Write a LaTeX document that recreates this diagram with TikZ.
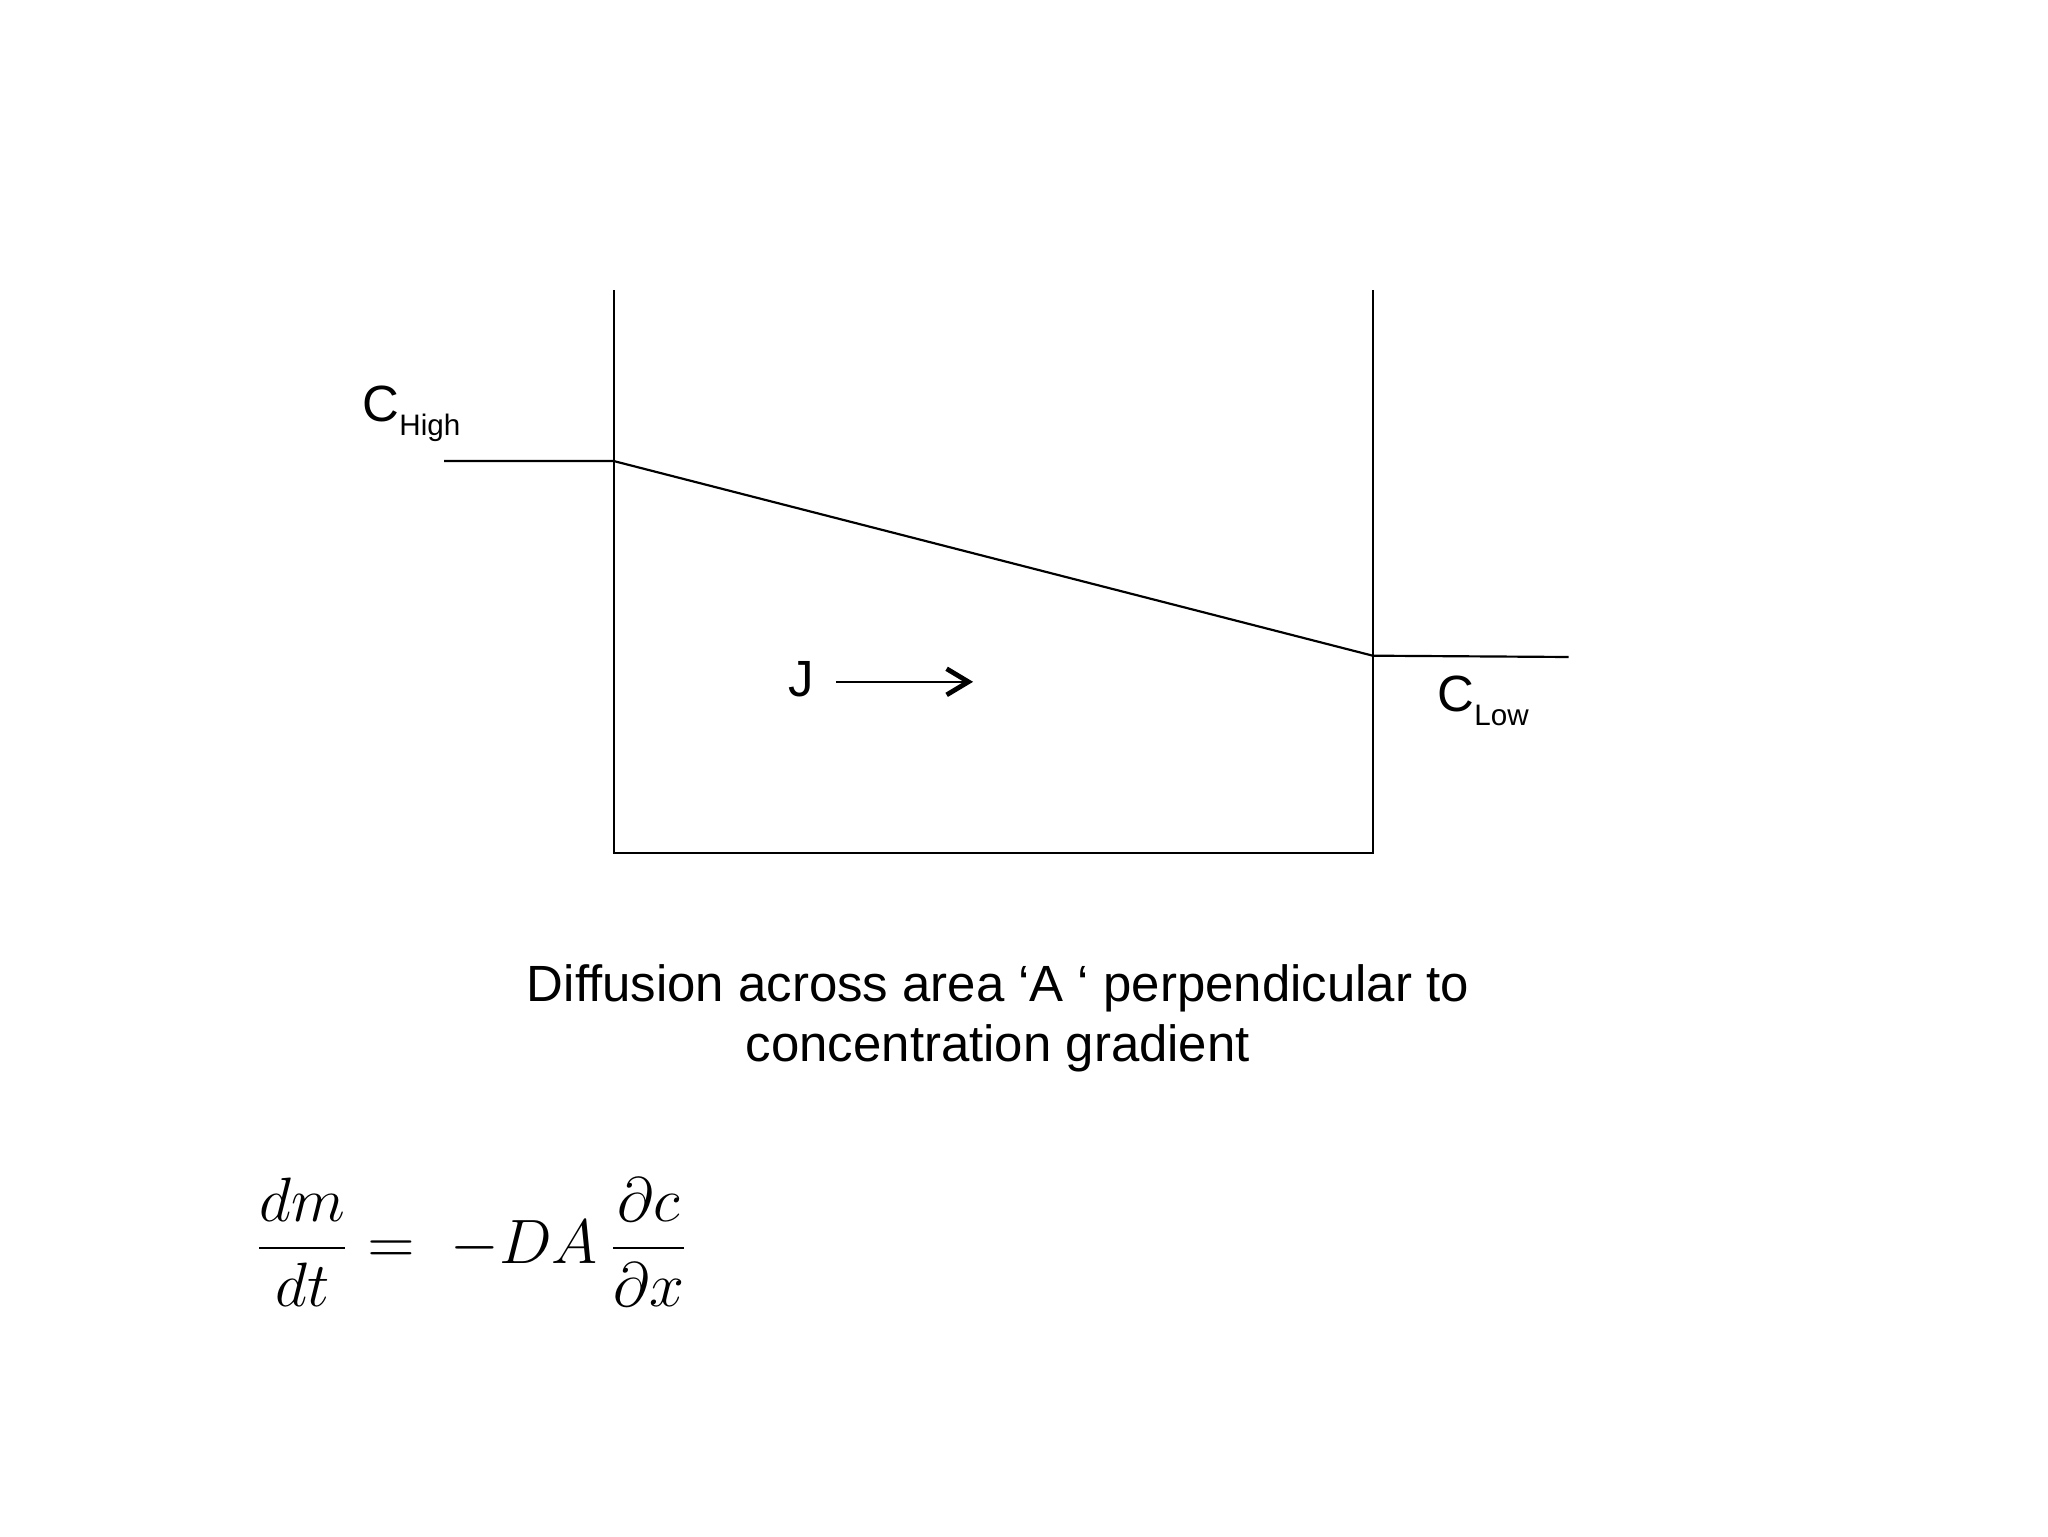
\documentclass[tikz,border=0pt]{standalone}
\usepackage{fontspec}
\setmainfont{Liberation Sans}
\usetikzlibrary{arrows.meta}
\newcommand{\csub}[1]{C\raisebox{-0.26em}{\fontsize{6.8}{8}\selectfont #1}}
\tikzset{
  wall/.style={line width=0.5pt},
  label/.style={inner sep=0pt, font=\fontsize{11.7}{14}\selectfont}
}
\begin{document}
\begin{tikzpicture}[x=0.3pt,y=0.3pt,yscale=-1,xscale=1]
\useasboundingbox (0,0) rectangle (1568,1176);

%Corners of the box
\coordinate (tl) at (470,222);
\coordinate (bl) at (470,653);
\coordinate (br) at (1051,653);
\coordinate (tr) at (1051,222);
\coordinate (hi) at (470,353);
\coordinate (lo) at (1051,502);
\coordinate (hiend) at (340,353);
\coordinate (loend) at (1201,503);

%Shape: Box
\draw [wall] (tl) -- (bl) -- (br) -- (tr) ;
%Straight Lines
\draw [wall] (hiend) -- (hi) -- (lo) -- (loend) ;

% Text Node
\node (chigh) [label, anchor=base west] at (277,323) {\csub{High}};
% Text Node
\node (clow) [label, anchor=base west] at (1100,545) {\csub{Low}};
% Text Node
\node (j) [label, anchor=base west] at (603,533) {J};
\coordinate (jend) at (745,522);
\draw [wall, -{Straight Barb[length=5pt,width=6pt,line width=1.1pt]}] (640,522) -- (jend) ;

% Text Node
\node (caption) [label, align=center, font=\fontsize{11.7}{13.8}\selectfont, anchor=base] at (764,813) {Diffusion across area \textquoteleft A \textquoteleft{} perpendicular to\\concentration gradient};

% Text Node
\node (fick) [inner sep=0pt, anchor=west, font=\fontsize{15}{18}\selectfont] at (194,951) {$\displaystyle \frac{dm}{dt} = \; -DA\,\frac{\partial c}{\partial x}$};

\end{tikzpicture}
\end{document}
